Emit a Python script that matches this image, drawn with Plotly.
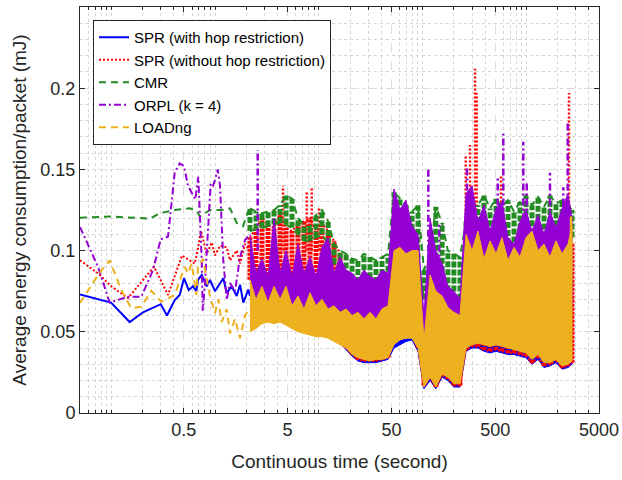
import plotly.graph_objects as go
import math

# ---------------- sparse start (individual lines) ----------------
blue_t = [0.050, 0.0995, 0.1506, 0.2022, 0.2996, 0.3445, 0.4087, 0.4565, 0.5022, 0.5574, 0.6133, 0.6597, 0.6851,
          0.7437, 0.831, 0.894, 0.999, 1.116, 1.201, 1.295, 1.447, 1.617, 1.740, 1.873, 2.092, 2.17]
blue_v = [0.073, 0.068, 0.056, 0.062, 0.067, 0.060, 0.0696, 0.0727, 0.083, 0.0757, 0.078, 0.075, 0.082,
          0.085, 0.078, 0.082, 0.075, 0.080, 0.083, 0.074, 0.078, 0.072, 0.079, 0.068, 0.076, 0.072]

red_t = [0.050, 0.0746, 0.1001, 0.1450, 0.2582, 0.3523, 0.4805, 0.6368, 0.6851, 0.7322, 0.831, 0.9286, 0.999,
         1.116, 1.295, 1.394, 1.617, 1.740, 1.944, 2.17]
red_v = [0.094, 0.086, 0.078, 0.0708, 0.090, 0.0727, 0.097, 0.092, 0.1016, 0.112, 0.098, 0.105, 0.097,
         0.103, 0.102, 0.094, 0.100, 0.092, 0.104, 0.100]

green_t = [0.050, 0.0995, 0.2362, 0.2929, 0.4087, 0.5022, 0.5737, 0.6655, 0.7165, 0.894, 1.159, 1.394, 1.500,
           1.617, 1.859, 2.077, 2.17]
green_v = [0.1203, 0.121, 0.1197, 0.123, 0.125, 0.1256, 0.126, 0.1245, 0.121, 0.125, 0.125, 0.126, 0.121,
           0.117, 0.115, 0.124, 0.120]

purple_t = [0.050, 0.0746, 0.0966, 0.1450, 0.1949, 0.2526, 0.2996, 0.3523, 0.4087, 0.4565, 0.5022, 0.5490,
            0.6452, 0.6899, 0.7437, 0.7605, 0.8000, 0.8553, 0.9080, 0.9556, 0.999, 1.061, 1.116, 1.201, 1.295,
            1.394, 1.557, 1.740, 1.944, 2.17]
purple_v = [0.1145, 0.090, 0.068, 0.0716, 0.0716, 0.088, 0.107, 0.1086, 0.148, 0.1537, 0.152, 0.140,
            0.1315, 0.1455, 0.094, 0.063, 0.080, 0.115, 0.1414, 0.140, 0.1435, 0.150, 0.140, 0.094, 0.0696,
            0.080, 0.075, 0.096, 0.1065, 0.110]

yellow_t = [0.050, 0.0746, 0.0966, 0.1250, 0.1560, 0.1949, 0.2431, 0.3035, 0.4087, 0.5101, 0.549, 0.5958,
            0.6597, 0.6851, 0.7656, 0.831, 0.894, 0.999, 1.076, 1.159, 1.295, 1.394, 1.557, 1.740, 1.944, 2.17]
yellow_v = [0.0677, 0.085, 0.094, 0.0757, 0.0645, 0.0655, 0.0753, 0.0685, 0.0727, 0.090, 0.086, 0.092,
            0.0727, 0.090, 0.095, 0.082, 0.0716, 0.0615, 0.070, 0.056, 0.064, 0.049, 0.058, 0.046, 0.060, 0.065]

# ---------------- dense part: per-column low/high envelopes ----------------
dense_t = [2.17, 2.48, 2.83, 3.24, 3.70, 4.23, 4.83, 5.51, 6.30, 7.19, 8.22, 9.39, 10.7, 12.3, 14.0, 16.0,
           18.3, 20.9, 23.8, 27.2, 31.1, 35.5, 40.6, 46.4, 53.0, 60.5, 69.1, 79.0, 90.2, 103, 118, 134, 154,
           175, 200, 229, 262, 299, 341, 390, 446, 509, 581, 664, 759, 867, 990, 1131, 1292, 1476, 1686, 1926,
           2200, 2513, 2747]

blue_lo = [.066, .064, .062, .060, .058, .058, .058, .056, .054, .052, .050, .050, .049, .047, .045, .043,
           .039, .035, .032, .031, .031, .031, .032, .033, .040, .042, .044, .045, .038, .015, .020, .015, .022,
           .020, .016, .016, .038, .040, .040, .038, .037, .038, .037, .036, .036, .035, .034, .030, .033, .028,
           .029, .031, .027, .028, .030]
blue_hi = [.080, .078, .076, .075, .074, .076, .080, .078, .084, .088, .084, .080, .076, .072, .068, .066,
           .064, .060, .058, .058, .056, .056, .058, .060, .075, .078, .080, .078, .070, .040, .070, .060, .055,
           .050, .048, .046, .080, .085, .085, .080, .078, .080, .080, .078, .078, .078, .080, .080, .080, .078,
           .078, .080, .080, .085, .085]

red_lo = [.082, .080, .082, .080, .082, .078, .078, .076, .076, .074, .073, .072, .070, .068, .066, .064,
          .040, .036, .033, .032, .032, .032, .033, .034, .045, .046, .047, .047, .040, .017, .021, .016, .023,
          .021, .017, .017, .039, .041, .041, .039, .038, .039, .038, .037, .037, .036, .035, .031, .034, .029,
          .030, .032, .028, .029, .031]
red_hi = [.108, .114, .120, .116, .114, .122, .114, .112, .116, .118, .120, .112, .117, .112, .106, .098,
          .080, .060, .058, .058, .056, .056, .058, .060, .120, .118, .100, .090, .080, .040, .060, .060, .060,
          .055, .050, .050, .110, .110, .105, .100, .100, .110, .100, .100, .100, .100, .100, .100, .100, .100,
          .100, .100, .100, .110, .105]

green_lo = [.112, .113, .114, .115, .116, .117, .116, .114, .110, .106, .106, .108, .110, .104, .092, .090,
            .084, .082, .080, .078, .078, .080, .080, .082, .108, .108, .100, .098, .095, .070, .080, .090, .082,
            .075, .065, .060, .090, .105, .112, .106, .110, .104, .108, .104, .100, .108, .112, .110, .114, .108,
            .112, .110, .112, .110, .108]
green_hi = [.126, .124, .123, .124, .125, .128, .134, .132, .120, .116, .114, .122, .125, .118, .104, .100,
            .098, .095, .094, .098, .096, .094, .096, .098, .136, .132, .128, .124, .128, .088, .098, .127, .117,
            .100, .098, .096, .118, .130, .128, .134, .126, .132, .127, .131, .124, .130, .134, .128, .133, .127,
            .134, .129, .131, .128, .125]

purple_lo = [.075, .072, .070, .068, .066, .066, .064, .062, .062, .060, .060, .058, .058, .058, .056, .056,
             .055, .055, .055, .055, .056, .056, .057, .058, .070, .075, .072, .070, .065, .035, .060, .055, .052,
             .048, .046, .045, .060, .065, .065, .062, .060, .062, .062, .064, .062, .060, .062, .065, .065, .064,
             .062, .065, .065, .066, .065]
purple_hi = [.110, .086, .095, .084, .120, .086, .100, .084, .104, .086, .096, .084, .102, .108, .086, .096,
             .088, .086, .082, .088, .084, .082, .088, .086, .138, .125, .131, .115, .110, .060, .120, .100, .092,
             .078, .075, .070, .135, .140, .118, .128, .112, .126, .130, .108, .104, .118, .125, .112, .122, .110,
             .124, .114, .126, .135, .120]

yellow_lo = [.050, .052, .055, .056, .055, .056, .054, .052, .050, .049, .048, .047, .047, .046, .044, .042,
             .040, .036, .034, .033, .032, .033, .033, .034, .042, .045, .046, .046, .040, .016, .022, .016, .024,
             .022, .018, .018, .040, .042, .043, .042, .041, .042, .041, .040, .039, .038, .037, .033, .036, .031,
             .031, .033, .029, .030, .032]
yellow_hi = [.082, .070, .078, .068, .078, .070, .078, .066, .072, .064, .074, .066, .070, .064, .066, .062,
             .064, .060, .062, .058, .062, .058, .064, .066, .100, .102, .098, .100, .100, .045, .085, .075, .072,
             .065, .062, .060, .110, .100, .112, .095, .106, .098, .108, .094, .102, .096, .108, .112, .100, .104,
             .096, .106, .098, .104, .115]

# ---------------- narrow spikes ----------------
red_spike_t = [4.515, 7.64, 8.54, 10.03, 53.9, 259.9, 285.9, 319.5, 331.7, 568.8, 2570]
red_spike_base = [0.100, 0.100, 0.100, 0.100, 0.110, 0.100, 0.100, 0.100, 0.100, 0.100, 0.100]
red_spike_top = [0.140, 0.136, 0.139, 0.127, 0.133, 0.158, 0.165, 0.212, 0.197, 0.146, 0.197]

purple_spike_t = [2.576, 113.4, 144.7, 267.5, 528.6, 598.4, 932.6, 1006, 1686, 2265, 2497]
purple_spike_base = [0.100, 0.090, 0.090, 0.100, 0.100, 0.100, 0.100, 0.100, 0.100, 0.100, 0.100]
purple_spike_top = [0.162, 0.151, 0.117, 0.152, 0.146, 0.172, 0.167, 0.142, 0.148, 0.139, 0.180]

yellow_spike_t = [2688]
yellow_spike_base = [0.080]
yellow_spike_top = [0.121]

names = ["SPR (with hop restriction)", "SPR (without hop restriction)", "CMR", "ORPL (k = 4)", "LOADng"]
colors = ["#0000FF", "#FF0000", "#228B22", "#9400D3", "#EDB120"]
dashes = ["solid", "2px,2px", "7px,5px", "7px,3px,2px,3px", "7px,5px"]
# how the dense part of each series is rendered: filled envelope or vertical strokes
render = ["fill", "strokes", "strokes", "fill", "fill"]
stroke_dash = [None, "3px,1px", "6px,2px", None, None]

sparse = [(blue_t, blue_v), (red_t, red_v), (green_t, green_v), (purple_t, purple_v), (yellow_t, yellow_v)]
bands = [(blue_lo, blue_hi), (red_lo, red_hi), (green_lo, green_hi), (purple_lo, purple_hi), (yellow_lo, yellow_hi)]
spikes = [None, (red_spike_t, red_spike_base, red_spike_top), None,
          (purple_spike_t, purple_spike_base, purple_spike_top), (yellow_spike_t, yellow_spike_base, yellow_spike_top)]


def segs(ts, los, his):
    xs, ys = [], []
    for t, b, h in zip(ts, los, his):
        xs += [t, t, None]
        ys += [b, h, None]
    return xs, ys


fig = go.Figure()
for i in range(5):
    lo, hi = bands[i]
    if render[i] == "fill":
        fig.add_trace(go.Scatter(
            x=dense_t + dense_t[::-1], y=hi + lo[::-1], mode="lines", fill="toself",
            fillcolor=colors[i], line=dict(color=colors[i], width=1), showlegend=False, hoverinfo="skip"))
    else:
        # vertical strokes per column, joined along the upper and lower envelopes
        xs, ys = segs(dense_t, lo, hi)
        fig.add_trace(go.Scatter(x=xs, y=ys, mode="lines", showlegend=False, hoverinfo="skip",
                                 line=dict(color=colors[i], width=5, dash=stroke_dash[i])))
        for env in (hi, lo):
            fig.add_trace(go.Scatter(x=dense_t, y=env, mode="lines", showlegend=False, hoverinfo="skip",
                                     line=dict(color=colors[i], width=2, dash=dashes[i])))
    if spikes[i] is not None:
        st, sb, stp = spikes[i]
        xs, ys = segs(st, sb, stp)
        fig.add_trace(go.Scatter(x=xs, y=ys, mode="lines", showlegend=False, hoverinfo="skip",
                                 line=dict(color=colors[i], width=2.5, dash=dashes[i] if i != 4 else "solid")))
    t, v = sparse[i]
    fig.add_trace(go.Scatter(x=t, y=v, mode="lines", name=names[i],
                             line=dict(color=colors[i], width=2, dash=dashes[i])))

minor_x = []
for e in range(-2, 4):
    for k in range(1, 10):
        val = k * 10 ** e
        if 0.05 < val < 5000 and k != 5:
            minor_x.append(val)

axis_col = "#262626"
font_family = "Liberation Sans, Arial, sans-serif"

fig.update_layout(
    width=622, height=480,
    margin=dict(l=80, r=23, t=7, b=67),
    paper_bgcolor="white", plot_bgcolor="white",
    font=dict(family=font_family, color=axis_col),
    legend=dict(x=0.025, y=0.968, xanchor="left", yanchor="top", bgcolor="white",
                bordercolor=axis_col, borderwidth=1, font=dict(size=15, color="#000000"),
                itemwidth=30, tracegroupgap=0),
    xaxis=dict(type="log", range=[math.log10(0.05), math.log10(5000)],
               tickmode="array", tickvals=[0.5, 5, 50, 500, 5000], ticktext=["0.5", "5", "50", "500", "5000"],
               ticks="inside", ticklen=5, tickcolor=axis_col, showline=True, linecolor=axis_col, linewidth=1,
               mirror="ticks", showgrid=True, gridcolor="#dcdcdc", griddash="dash", gridwidth=1,
               tickfont=dict(size=18), zeroline=False,
               title=dict(text="Continuous time (second)", font=dict(size=19), standoff=16),
               minor=dict(tickmode="array", tickvals=minor_x, ticks="inside", ticklen=3, tickcolor=axis_col,
                          showgrid=True, gridcolor="#d6d6d6", griddash="dot", gridwidth=1),
               automargin=False),
    yaxis=dict(range=[0, 0.25], tickmode="array", tickvals=[0, 0.05, 0.1, 0.15, 0.2, 0.25],
               ticktext=["0", "0.05", "0.1", "0.15", "0.2", "0.25"],
               ticks="inside", ticklen=5, tickcolor=axis_col, showline=True, linecolor=axis_col, linewidth=1,
               mirror="ticks", showgrid=True, gridcolor="#dcdcdc", griddash="dash", gridwidth=1,
               tickfont=dict(size=18), zeroline=False,
               title=dict(text="Average energy consumption/packet (mJ)", font=dict(size=19), standoff=8),
               minor=dict(dtick=0.01, showgrid=True, gridcolor="#d6d6d6", griddash="dot", gridwidth=1),
               automargin=False),
)

fig.write_html("out.html")
